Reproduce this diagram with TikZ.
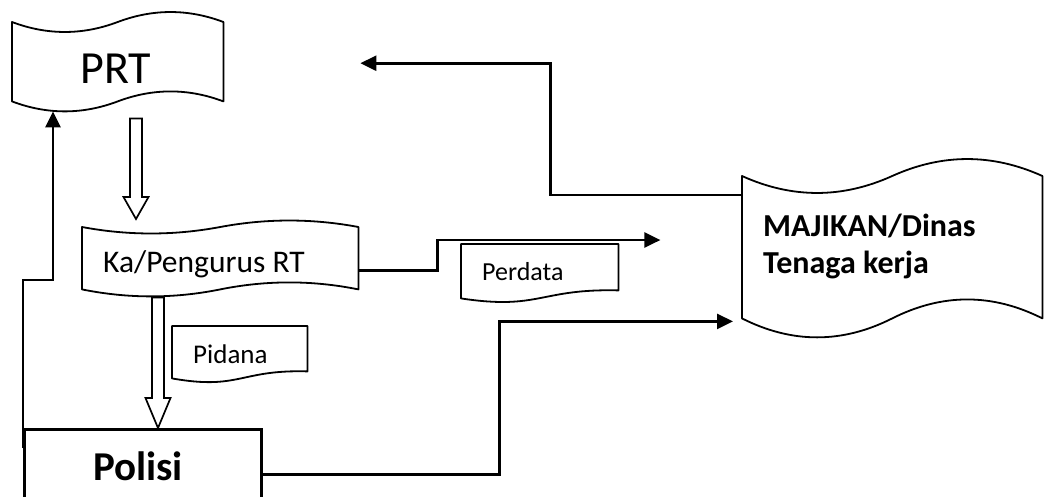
\documentclass[tikz,border=0pt]{standalone}
\usepackage{fontspec}
\setmainfont{Carlito}
\usetikzlibrary{arrows.meta,calc}

\tikzset{
  shapebox/.style={draw=none, inner sep=0pt, anchor=north west},
  outline/.style={line width=1.8pt, line join=round},
  conn/.style={line width=2.6pt, -{Triangle[length=16pt,width=15pt]}},
  hollow/.style={line width=1.7pt, line join=miter},
  txt/.style={inner sep=0pt, anchor=base west},
}

\newcommand{\tapeoutline}[3]{%
  \draw[outline] (#1.north west)
    .. controls ($(#1.north west)!{1/6}!(#1.north east)+(0,1.33*#2)$) and ($(#1.north west)!{1/3}!(#1.north east)+(0,1.33*#2)$) .. (#1.north)
    .. controls ($(#1.north west)!{2/3}!(#1.north east)+(0,-1.33*#2)$) and ($(#1.north west)!{5/6}!(#1.north east)+(0,-1.33*#2)$) .. (#1.north east)
    -- (#1.south east)
    .. controls ($(#1.south west)!{5/6}!(#1.south east)+(0,-1.33*#3)$) and ($(#1.south west)!{2/3}!(#1.south east)+(0,-1.33*#3)$) .. (#1.south)
    .. controls ($(#1.south west)!{1/3}!(#1.south east)+(0,1.33*#3)$) and ($(#1.south west)!{1/6}!(#1.south east)+(0,1.33*#3)$) .. (#1.south west)
    -- cycle;}
\newcommand{\docoutline}[2]{%
  \draw[outline] (#1.south west) -- (#1.north west) -- (#1.north east) -- ($(#1.south east)+(0,-#2)$)
    .. controls ($(#1.south)+(0,-#2-2)$) and ($(#1.south)+(0,12)$) .. (#1.south west) -- cycle;}
\newcommand{\hollowarrow}[3]{%
  \draw[hollow] let \p1=(#1), \p2=(#2) in
    (\x1-6pt,\y1) -- (\x1-6pt,\y2+#3pt) -- (\x1-12.5pt,\y2+#3pt) -- (\x1,\y2)
    -- (\x1+12.5pt,\y2+#3pt) -- (\x1+6pt,\y2+#3pt) -- (\x1+6pt,\y1) -- cycle;}

\begin{document}
\begin{tikzpicture}[x=1pt,y=-1pt]
  \useasboundingbox (0,0) rectangle (1045,496);

  \node[shapebox, minimum width=211, minimum height=79] (prt) at (12,22) {};
  \node[shapebox, minimum width=276, minimum height=62] (ka) at (82,227) {};
  \node[shapebox, minimum width=300, minimum height=142] (majikan) at (742,176) {};
  \node[shapebox, minimum width=157, minimum height=54] (perdata) at (461,244) {};
  \node[shapebox, minimum width=135, minimum height=52] (pidana) at (172,326) {};
  \node[shapebox, draw, line width=2.6pt, minimum width=237, minimum height=90] (polisi) at (23,428) {};

  \tapeoutline{prt}{10}{10}
  \tapeoutline{ka}{6.5}{7}
  \tapeoutline{majikan}{17}{19}
  \docoutline{perdata}{8}
  \docoutline{pidana}{7}

  \node[txt, anchor=base, font=\fontsize{46}{50}\selectfont] (prt-label) at (116,83) {PRT};
  \node[txt, font=\fontsize{31.5}{35}\selectfont] (ka-label) at (103,272) {Ka/Pengurus RT};
  \node[txt, font=\fontsize{26}{30}\selectfont] (perdata-label) at (482,280) {Perdata};
  \node[txt, font=\fontsize{27}{31}\selectfont] (pidana-label) at (193,363) {Pidana};
  \node[txt, font=\bfseries\fontsize{32}{37}\selectfont] (majikan-label) at (763,236) {MAJIKAN/Dinas};
  \node[txt, font=\bfseries\fontsize{32}{37}\selectfont] (tenaga-label) at (763,273) {Tenaga kerja};
  \node[txt, anchor=base, font=\bfseries\fontsize{41}{45}\selectfont] (polisi-label) at (138,480) {Polisi};

  \hollowarrow{$(prt.south west)+(124,17)$}{$(ka.north west)+(54,-8)$}{22}
  \hollowarrow{$(ka.south west)+(76,8)$}{$(polisi.north west)+(135,0)$}{30}

  \draw[conn] ($(polisi.north west)+(0,20)$) -- ++(0,-168) -| ($(prt.south west)+(41,10)$);
  \draw[conn] ($(majikan.north west)+(0,19)$) -| ($(prt.east)+(327,1.5)$) -- ($(prt.east)+(137,1.5)$);
  \draw[conn] ($(ka.east)+(0,12)$) -- ++(79,0) |- ($(perdata.north east)+(42,-4)$);
  \draw[conn] (polisi.east) -- ++(237,0) |- ($(majikan.south west)+(-9,3)$);
\end{tikzpicture}
\end{document}
